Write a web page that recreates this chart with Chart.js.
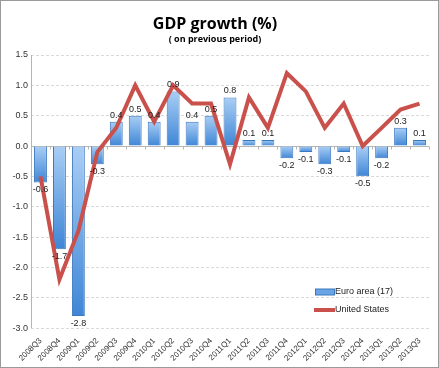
<!DOCTYPE html>
<html>
<head>
<meta charset="utf-8">
<script src="https://cdn.jsdelivr.net/npm/chart.js@4/dist/chart.umd.min.js"></script>
<style>
	html, body { margin: 0; padding: 0; background: #fff; }
	#wrap { position: relative; width: 437px; height: 366px; border: 1px solid #9a9a9a; }
</style>
</head>
<body>
<div id="wrap"><canvas id="chart" width="437" height="366"></canvas></div>
<script>
const quarters = ['2008Q3','2008Q4','2009Q1','2009Q2','2009Q3','2009Q4','2010Q1','2010Q2','2010Q3','2010Q4',
	'2011Q1','2011Q2','2011Q3','2011Q4','2012Q1','2012Q2','2012Q3','2012Q4','2013Q1','2013Q2','2013Q3']
const euroArea = [-0.6, -1.7, -2.8, -0.3, 0.4, 0.5, 0.4, 0.9, 0.4, 0.5, 0.8, 0.1, 0.1, -0.2, -0.1, -0.3, -0.1, -0.5, -0.2, 0.3, 0.1]
const unitedStates = [-0.5, -2.2, -1.4, -0.1, 0.3, 1.0, 0.4, 1.0, 0.7, 0.7, -0.3, 0.8, 0.3, 1.2, 0.9, 0.3, 0.7, 0.0, 0.3, 0.6, 0.7]
const seriesNames = ['Euro area (17)', 'United States']

const barBorder = '#3c78be'
const lineColor = '#c9504b'

// light at the top of each bar, darker further down
function barFill(ctx) {
	const chart = ctx.chart
	const y = chart.scales.y
	if (!y || ctx.raw == null) return '#74aae6'
	let top = y.getPixelForValue(Math.max(ctx.raw, 0))
	let bot = y.getPixelForValue(Math.min(ctx.raw, 0))
	if (!isFinite(top) || !isFinite(bot) || bot - top < 1) return '#74aae6'
	const g = chart.ctx.createLinearGradient(0, top, 0, bot)
	g.addColorStop(0, '#a9cef5')
	g.addColorStop(1, '#3f86d6')
	return g
}

const valueLabels = {
	id: 'valueLabels',
	afterDatasetsDraw(chart) {
		const ctx = chart.ctx
		const meta = chart.getDatasetMeta(0)
		ctx.save()
		ctx.font = '9px "Liberation Sans", Arial, sans-serif'
		ctx.fillStyle = '#222'
		ctx.textAlign = 'center'
		meta.data.forEach((bar, i) => {
			let v = euroArea[i]
			if (v >= 0) {
				ctx.textBaseline = 'bottom'
				ctx.fillText(v.toFixed(1), bar.x, bar.y - 2)
			} else {
				ctx.textBaseline = 'top'
				ctx.fillText(v.toFixed(1), bar.x, bar.y + 3)
			}
		})
		ctx.restore()
	}
}

// solid y axis line and the zero line with small category ticks
const axisLines = {
	id: 'axisLines',
	beforeDatasetsDraw(chart) {
		const {ctx, chartArea, scales} = chart
		const y0 = Math.round(scales.y.getPixelForValue(0)) + 0.5
		const xl = Math.round(chartArea.left) + 0.5
		const step = scales.x.getPixelForValue(1) - scales.x.getPixelForValue(0)
		ctx.save()
		ctx.strokeStyle = '#b5b5b5'
		ctx.lineWidth = 1
		ctx.beginPath()
		ctx.moveTo(xl, chartArea.top)
		ctx.lineTo(xl, chartArea.bottom)
		ctx.moveTo(chartArea.left, y0)
		ctx.lineTo(chartArea.right, y0)
		quarters.forEach((q, i) => {
			let x = Math.round(scales.x.getPixelForValue(i) + step / 2) + 0.5
			ctx.moveTo(x, y0)
			ctx.lineTo(x, y0 + 3)
		})
		ctx.stroke()
		ctx.restore()
	}
}

const innerLegend = {
	id: 'innerLegend',
	afterDraw(chart) {
		const ctx = chart.ctx
		const y1 = 291, y2 = 309
		ctx.save()
		ctx.fillStyle = '#6aa4e4'
		ctx.strokeStyle = barBorder
		ctx.fillRect(314.5, y1 - 3, 19, 6)
		ctx.strokeRect(314.5, y1 - 3, 19, 6)
		ctx.strokeStyle = lineColor
		ctx.lineWidth = 4
		ctx.beginPath()
		ctx.moveTo(313, y2)
		ctx.lineTo(334, y2)
		ctx.stroke()
		ctx.fillStyle = '#222'
		ctx.font = '9px "Liberation Sans", Arial, sans-serif'
		ctx.textBaseline = 'middle'
		ctx.fillText(seriesNames[0], 334, y1)
		ctx.fillText(seriesNames[1], 334, y2)
		ctx.restore()
	}
}

new Chart(document.getElementById('chart'), {
	data: {
		labels: quarters,
		datasets: [
			{
				type: 'bar',
				label: seriesNames[0],
				data: euroArea,
				backgroundColor: barFill,
				borderColor: barBorder,
				borderWidth: 1,
				barPercentage: 0.68,
				categoryPercentage: 1,
				order: 2
			},
			{
				type: 'line',
				label: seriesNames[1],
				data: unitedStates,
				borderColor: lineColor,
				borderWidth: 4,
				pointRadius: 0,
				tension: 0,
				order: 1
			}
		]
	},
	options: {
		responsive: false,
		animation: false,
		layout: { padding: { left: 0, right: 9, top: 0, bottom: 4 } },
		plugins: {
			legend: { display: false },
			tooltip: { enabled: false },
			title: {
				display: true,
				text: 'GDP growth (%)',
				color: '#000',
				font: { family: '"Open Sans", sans-serif', size: 16, weight: 'bold' },
				padding: { top: 14, bottom: 0 }
			},
			subtitle: {
				display: true,
				text: '( on previous period)',
				color: '#000',
				font: { family: '"Open Sans", sans-serif', size: 9, weight: 'bold' },
				padding: { top: 0, bottom: 10 }
			}
		},
		scales: {
			x: {
				grid: { display: false },
				border: { display: false },
				ticks: {
					minRotation: 45,
					maxRotation: 45,
					autoSkip: false,
					color: '#333',
					font: { family: '"Liberation Sans", Arial, sans-serif', size: 8 },
					padding: 0
				}
			},
			y: {
				min: -3,
				max: 1.5,
				afterFit: (s) => { s.width = 30 },
				ticks: {
					stepSize: 0.5,
					color: '#333',
					font: { family: '"Liberation Sans", Arial, sans-serif', size: 9 },
					callback: (v) => v.toFixed(1)
				},
				grid: { color: '#d9d9d9', drawTicks: false },
				border: { display: false, dash: [3, 2] }
			}
		}
	},
	plugins: [axisLines, valueLabels, innerLegend]
})
</script>
</body>
</html>
